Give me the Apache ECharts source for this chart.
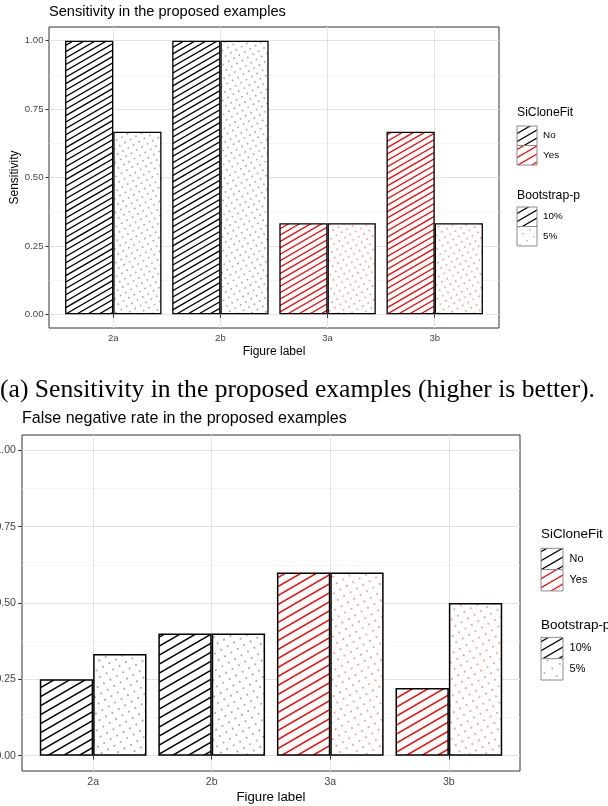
<!DOCTYPE html>
<html><head><meta charset="utf-8">
<script src="https://cdn.jsdelivr.net/npm/echarts@6/dist/echarts.min.js"></script>
<style>html,body{margin:0;padding:0;background:#fff;}#c{width:608px;height:806px;}</style>
</head><body><div id="c"></div>
<script>
// ---- data ----
const categories = ['2a', '2b', '3a', '3b'];
const siCloneFit = ['No', 'No', 'Yes', 'Yes'];
const sensitivity10 = [1.00, 1.00, 0.333, 0.667];
const sensitivity5 = [0.667, 1.00, 0.333, 0.333];
const fnr10 = [0.25, 0.40, 0.60, 0.222];
const fnr5 = [0.333, 0.40, 0.60, 0.50];
const yTicks = [0, 0.25, 0.5, 0.75, 1];
const yTickLabels = ['0.00', '0.25', '0.50', '0.75', '1.00'];
const yMinorTicks = [0.125, 0.375, 0.625, 0.875];
const xTicks = [1, 2, 3, 4];
const legendSiCloneFit = ['No', 'Yes'];
const legendBootstrap = ['10%', '5%'];

// ---- patterns ----
const W = 608, H = 806;
const T30 = Math.tan(Math.PI / 6);
function stripes(color, v, lw) {
  const c = document.createElement('canvas'); c.width = W; c.height = H;
  const g = c.getContext('2d');
  g.fillStyle = '#fff'; g.fillRect(0, 0, W, H);
  g.strokeStyle = color; g.lineWidth = lw; g.beginPath();
  for (let y0 = 0; y0 < H + W * T30 + v; y0 += v) { g.moveTo(0, y0); g.lineTo(W, y0 - W * T30); }
  g.stroke();
  return { image: c, repeat: 'repeat' };
}
function dots(color, s, r) {
  const c = document.createElement('canvas'); c.width = W; c.height = H;
  const g = c.getContext('2d');
  g.fillStyle = '#fff'; g.fillRect(0, 0, W, H);
  g.fillStyle = color;
  const ca = Math.cos(Math.PI / 6), sa = Math.sin(Math.PI / 6);
  const N = Math.ceil((W + H) / s) + 2;
  for (let i = -N; i <= N; i++) for (let j = -N; j <= N; j++) {
    const x = i * s * ca + j * s * sa, y = -i * s * sa + j * s * ca;
    if (x < -2 || x > W + 2 || y < -2 || y > H + 2) continue;
    g.beginPath(); g.arc(x, y, r, 0, Math.PI * 2); g.fill();
  }
  return { image: c, repeat: 'repeat' };
}
const COL = { No: '#000000', Yes: '#ff0000' };
const DOTCOL = { No: '#ababab', Yes: '#ff9c9c' };
const pat = [
  { s10: { No: stripes(COL.No, 6.4, 1.3), Yes: stripes(COL.Yes, 6.4, 1.3) },
    s5: { No: dots(DOTCOL.No, 6.2, 0.95), Yes: dots(DOTCOL.Yes, 6.2, 0.95) },
    key: { No: stripes(COL.No, 8, 1.2), Yes: stripes(COL.Yes, 8, 1.2), d: dots(DOTCOL.No, 8, 0.8) } },
  { s10: { No: stripes(COL.No, 9, 1.5), Yes: stripes(COL.Yes, 9, 1.5) },
    s5: { No: dots(DOTCOL.No, 7.4, 1.05), Yes: dots(DOTCOL.Yes, 7.4, 1.05) },
    key: { No: stripes(COL.No, 9, 1.3), Yes: stripes(COL.Yes, 9, 1.3), d: dots(DOTCOL.No, 9, 0.9) } }
];

const FONT = 'Liberation Sans';
const charts = [
  { title: 'Sensitivity in the proposed examples', yName: 'Sensitivity', v10: sensitivity10, v5: sensitivity5,
    grid: { left: 49, top: 27, width: 450, height: 301 }, titlePos: { left: 49, top: 4 }, fs: 1, bw: 1.3,
    leg: { x: 517, y: 113, kw: 20, kh: 19.5 } },
  { title: 'False negative rate in the proposed examples', yName: '', v10: fnr10, v5: fnr5,
    grid: { left: 22, top: 435, width: 498, height: 336 }, titlePos: { left: 22, top: 411 }, fs: 1.1, bw: 1.5,
    leg: { x: 541, y: 534, kw: 22, kh: 21.3 } }
];

const option = { animation: false, title: [], grid: [], xAxis: [], yAxis: [], series: [], graphic: [] };
charts.forEach((ch, k) => {
  const f = ch.fs;
  option.title.push({ text: ch.title, left: ch.titlePos.left, top: ch.titlePos.top, padding: 0,
    textStyle: { fontFamily: FONT, fontSize: 14.6 * f, fontWeight: 'normal', color: '#000' } });
  option.grid.push(Object.assign({ show: true, borderColor: '#333', borderWidth: 1, backgroundColor: '#fff',
    containLabel: false, outerBoundsMode: 'none' }, ch.grid));
  option.xAxis.push({ type: 'value', gridIndex: k, min: 0.4, max: 4.6,
    name: 'Figure label', nameLocation: 'middle', nameGap: 18 * f, nameMoveOverlap: false,
    nameTextStyle: { fontFamily: FONT, fontSize: 12 * f, color: '#000', verticalAlign: 'top' },
    axisLine: { show: false },
    axisTick: { show: true, customValues: xTicks, length: 3.5 * f, lineStyle: { color: '#333', width: 1 } },
    axisLabel: { customValues: xTicks, formatter: v => categories[Math.round(v) - 1], margin: 5.5 * f,
      fontFamily: FONT, fontSize: 9.6 * f, color: '#444' },
    splitLine: { show: true, lineStyle: { color: '#e3e3e3', width: 1 } } });
  option.yAxis.push({ type: 'value', gridIndex: k, min: -0.05, max: 1.05,
    name: ch.yName, nameLocation: 'middle', nameGap: 28, nameMoveOverlap: false,
    nameTextStyle: { fontFamily: FONT, fontSize: 12 * f, color: '#000' },
    axisLine: { show: false },
    axisTick: { show: true, customValues: yTicks, length: 3.5 * f, lineStyle: { color: '#333', width: 1 } },
    axisLabel: { customValues: yTicks, formatter: v => yTickLabels[yTicks.indexOf(Math.round(v * 100) / 100)], margin: 5.5 * f,
      fontFamily: FONT, fontSize: 9.6 * f, color: '#444' },
    splitLine: { show: true, lineStyle: { color: '#e3e3e3', width: 1 } } });
  option.yAxis.push({ type: 'value', gridIndex: k, min: -0.05, max: 1.05, position: 'left',
    axisLine: { show: false }, axisLabel: { show: false },
    axisTick: { show: false, customValues: yMinorTicks },
    splitLine: { show: true, lineStyle: { color: '#f1f1f1', width: 0.7 } } });
  const mk = (vals, kind) => vals.map((v, i) => ({ value: [i + 1, v], itemStyle: { color: pat[k][kind][siCloneFit[i]] } }));
  const base = { type: 'bar', xAxisIndex: k, yAxisIndex: 2 * k, barWidth: '45%', barGap: '0%',
    itemStyle: { borderColor: '#000', borderWidth: ch.bw }, emphasis: { disabled: true } };
  option.series.push(Object.assign({ name: legendBootstrap[0], data: mk(ch.v10, 's10') }, base));
  option.series.push(Object.assign({ name: legendBootstrap[1], data: mk(ch.v5, 's5') }, base));

  // legends (ggplot style)
  const L = ch.leg, kw = L.kw, kh = L.kh;
  const txt = (x, y, t, fsz) => ({ type: 'text', x: x, y: y, style: { text: t, fontFamily: FONT, fontSize: fsz, fill: '#000', verticalAlign: 'middle', align: 'left' } });
  const key = (x, y, fill) => ({ type: 'rect', shape: { x: x, y: y, width: kw, height: kh }, style: { fill: fill, stroke: '#8a8a8a', lineWidth: 1 } });
  option.graphic.push(txt(L.x, L.y, 'SiCloneFit', 12.2 * f));
  const k1 = L.y + 13 * f;
  option.graphic.push(key(L.x, k1, pat[k].key.No));
  option.graphic.push(key(L.x, k1 + kh, pat[k].key.Yes));
  option.graphic.push(txt(L.x + kw + 6 * f, k1 + kh / 2, legendSiCloneFit[0], 9.9 * f));
  option.graphic.push(txt(L.x + kw + 6 * f, k1 + kh * 1.5, legendSiCloneFit[1], 9.9 * f));
  const t2 = L.y + 83 * f;
  option.graphic.push(txt(L.x, t2, 'Bootstrap-p', 12.2 * f));
  const k2 = t2 + 11 * f;
  option.graphic.push(key(L.x, k2, pat[k].key.No));
  option.graphic.push(key(L.x, k2 + kh, pat[k].key.d));
  option.graphic.push(txt(L.x + kw + 6 * f, k2 + kh / 2, legendBootstrap[0], 9.9 * f));
  option.graphic.push(txt(L.x + kw + 6 * f, k2 + kh * 1.5, legendBootstrap[1], 9.9 * f));
});
option.graphic.push({ type: 'text', x: 0, y: 390, style: { text: '(a) Sensitivity in the proposed examples (higher is better).',
  fontFamily: 'Liberation Serif', fontSize: 25.6, fill: '#000', verticalAlign: 'middle', align: 'left' } });

const chart = echarts.init(document.getElementById('c'), null, { renderer: 'canvas' });
chart.setOption(option);
</script>
</body></html>
